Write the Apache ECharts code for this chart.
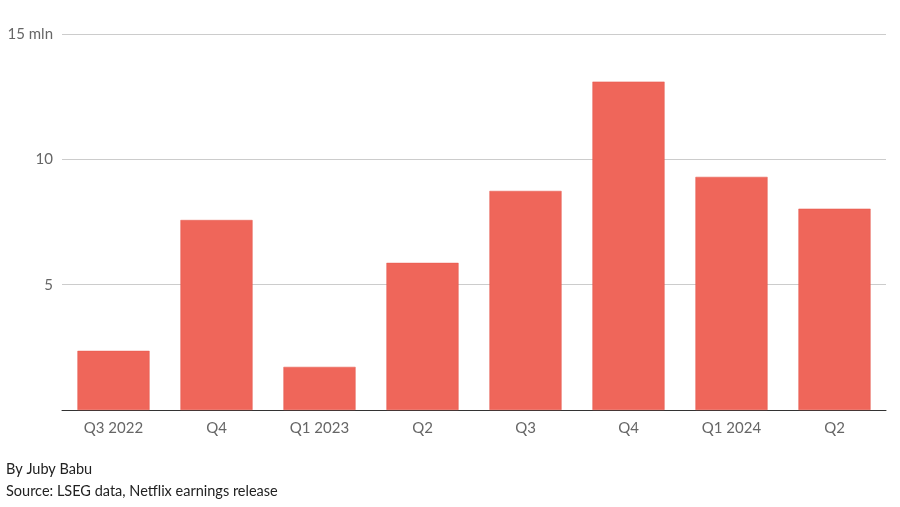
<!DOCTYPE html>
<html><head><meta charset="utf-8">
<script src="https://cdn.jsdelivr.net/npm/echarts@6/dist/echarts.min.js"></script>
<style>html,body{margin:0;padding:0;background:#fff}#c{width:900px;height:507px}</style>
</head><body><div id="c"></div>
<script>
const categories = ["Q3 2022","Q4","Q1 2023","Q2","Q3","Q4","Q1 2024","Q2"];
const netAdds = [2.36, 7.58, 1.72, 5.87, 8.74, 13.1, 9.3, 8.03];
const yTicks = {0:"",5:"5",10:"10",15:"15 mln"};
const FONT = "Lato, 'Open Sans', sans-serif";
const chart = echarts.init(document.getElementById('c'), null, {renderer:'canvas'});
chart.setOption({
  animation:false,
  grid:{left:62,right:14,top:34,bottom:97,containLabel:false},
  xAxis:{type:'category',data:categories,
    axisLine:{lineStyle:{color:'#333',width:1}},axisTick:{show:false},
    axisLabel:{color:'#666',fontSize:15,fontFamily:FONT,margin:11}},
  yAxis:{type:'value',min:0,max:15,interval:5,
    splitLine:{lineStyle:{color:'#ccc',width:1}},
    axisLine:{show:false},axisTick:{show:false},
    axisLabel:{color:'#666',fontSize:15,fontFamily:FONT,margin:9,
      formatter:v=>yTicks[v]}},
  series:[{type:'bar',data:netAdds,barWidth:'70%',
    itemStyle:{color:'#EF665A',borderColor:'#E5574B',borderWidth:0.5}}],
  graphic:[
    {type:'text',left:6,top:462,style:{text:'By Juby Babu',fill:'#222',font:'14.5px '+FONT}},
    {type:'text',left:6,top:484,style:{text:'Source: LSEG data, Netflix earnings release',fill:'#222',font:'14.5px '+FONT}}
  ]
});
</script></body></html>
